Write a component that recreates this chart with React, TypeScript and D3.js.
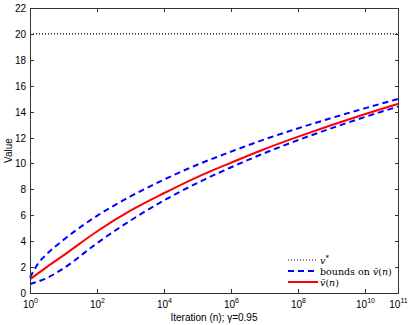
import React, { useEffect, useRef } from "react";
import * as d3 from "d3";

// iterations n (log spaced) and values
const iterations = [1, 1.78, 3.16, 10, 1e2, 1e3, 1e4, 1e5, 1e6, 1e7, 1e8, 1e9, 1e10, 1e11];
const upperBound = [1.2, 2.3, 3.0, 4.1, 5.95, 7.45, 8.75, 9.9, 10.9, 11.85, 12.7, 13.5, 14.25, 14.98];
const meanValue = [1.06, 1.53, 2.0, 2.9, 4.75, 6.35, 7.7, 8.95, 10.05, 11.1, 12.05, 12.95, 13.8, 14.6];
const lowerBound = [0.7, 0.9, 1.15, 1.9, 3.84, 5.59, 7.14, 8.49, 9.69, 10.79, 11.79, 12.71, 13.58, 14.39];
const vStar = 20;

const xTickExps = [0, 2, 4, 6, 8, 10, 11];
const yTicks = [0, 2, 4, 6, 8, 10, 12, 14, 16, 18, 20, 22];

const W = 415;
const H = 325;
const margin = { left: 30, right: 17, top: 8, bottom: 32 };

const App = () => {
  const ref = useRef<SVGSVGElement>(null);

  useEffect(() => {
    const svg = d3.select(ref.current);
    svg.selectAll("*").remove();

    const x = d3.scaleLog().domain([1, 1e11]).range([margin.left, W - margin.right]);
    const y = d3.scaleLinear().domain([0, 22]).range([H - margin.bottom, margin.top]);
    const [x0, x1] = x.range();
    const [y0, y1] = y.range();
    const axisColor = "#333";
    const font = "Liberation Sans, Arial, sans-serif";

    // v* line
    svg
      .append("line")
      .attr("x1", x0)
      .attr("x2", x1)
      .attr("y1", y(vStar))
      .attr("y2", y(vStar))
      .attr("stroke", "#000")
      .attr("stroke-width", 1.2)
      .attr("stroke-dasharray", "1,2");

    const line = (vals: number[]) =>
      d3
        .line<number>()
        .x((d, i) => x(iterations[i]))
        .y((d) => y(d))
        .curve(d3.curveMonotoneX)(vals);

    [upperBound, lowerBound].forEach((s) => {
      svg
        .append("path")
        .attr("d", line(s))
        .attr("fill", "none")
        .attr("stroke", "#0000ff")
        .attr("stroke-width", 2)
        .attr("stroke-dasharray", "6,4");
    });

    svg
      .append("path")
      .attr("d", line(meanValue))
      .attr("fill", "none")
      .attr("stroke", "#ff0000")
      .attr("stroke-width", 2);

    // box
    svg
      .append("rect")
      .attr("x", x0 + 0.5)
      .attr("y", y1 + 0.5)
      .attr("width", x1 - x0)
      .attr("height", y0 - y1)
      .attr("fill", "none")
      .attr("stroke", axisColor)
      .attr("stroke-width", 1);

    // y ticks
    yTicks.forEach((t) => {
      const yy = Math.round(y(t)) + 0.5;
      svg.append("line").attr("x1", x0).attr("x2", x0 + 4).attr("y1", yy).attr("y2", yy).attr("stroke", axisColor);
      svg.append("line").attr("x1", x1 - 3).attr("x2", x1 + 1).attr("y1", yy).attr("y2", yy).attr("stroke", axisColor);
      svg
        .append("text")
        .attr("x", x0 - 4)
        .attr("y", yy + 3.5)
        .attr("text-anchor", "end")
        .style("font-family", font)
        .style("font-size", "10px")
        .text(t);
    });

    // x ticks
    xTickExps.forEach((e) => {
      const xx = Math.round(x(Math.pow(10, e))) + 0.5;
      svg.append("line").attr("x1", xx).attr("x2", xx).attr("y1", y0).attr("y2", y0 - 4).attr("stroke", axisColor);
      svg.append("line").attr("x1", xx).attr("x2", xx).attr("y1", y1).attr("y2", y1 + 4).attr("stroke", axisColor);
      const txt = svg
        .append("text")
        .attr("x", xx)
        .attr("y", y0 + 15)
        .attr("text-anchor", "middle")
        .style("font-family", font)
        .style("font-size", "10px");
      txt.append("tspan").text("10");
      txt.append("tspan").attr("dy", -5).style("font-size", "7px").text(e);
    });

    // axis labels
    svg
      .append("text")
      .attr("x", (x0 + x1) / 2)
      .attr("y", H - 4)
      .attr("text-anchor", "middle")
      .style("font-family", font)
      .style("font-size", "10px")
      .text("Iteration (n); γ=0.95");

    svg
      .append("text")
      .attr("transform", `translate(12,${(y0 + y1) / 2}) rotate(-90)`)
      .attr("text-anchor", "middle")
      .style("font-family", font)
      .style("font-size", "10px")
      .text("Value");

    // legend
    const serif = "DejaVu Serif, Liberation Serif, serif";
    const legend = svg.append("g").attr("transform", "translate(288,260)");
    const items = [
      { dash: "1,2", color: "#000", w: 1.2, label: "star" },
      { dash: "6,4", color: "#0000ff", w: 2, label: "bounds" },
      { dash: null, color: "#ff0000", w: 2, label: "mean" },
    ];
    items.forEach((it, i) => {
      const ly = i * 11;
      const l = legend
        .append("line")
        .attr("x1", 0)
        .attr("x2", 30)
        .attr("y1", ly)
        .attr("y2", ly)
        .attr("stroke", it.color)
        .attr("stroke-width", it.w);
      if (it.dash) l.attr("stroke-dasharray", it.dash);
      const t = legend
        .append("text")
        .attr("x", 32)
        .attr("y", ly + 3.5)
        .style("font-family", serif)
        .style("font-size", "9.5px");
      if (it.label === "star") {
        t.append("tspan").style("font-style", "italic").text("v");
        t.append("tspan").attr("dy", -4).style("font-size", "7px").text("*");
      } else {
        if (it.label === "bounds") t.append("tspan").text("bounds on ");
        t.append("tspan").style("font-style", "italic").text("v\u0304");
        t.append("tspan").text("(");
        t.append("tspan").style("font-style", "italic").text("n");
        t.append("tspan").text(")");
      }
    });
  }, []);

  return (
    <div style={{ position: "absolute", left: 0, top: 0 }}>
      <svg ref={ref} width={W} height={H} style={{ display: "block", background: "#fff" }}></svg>
    </div>
  );
};

export default App;
